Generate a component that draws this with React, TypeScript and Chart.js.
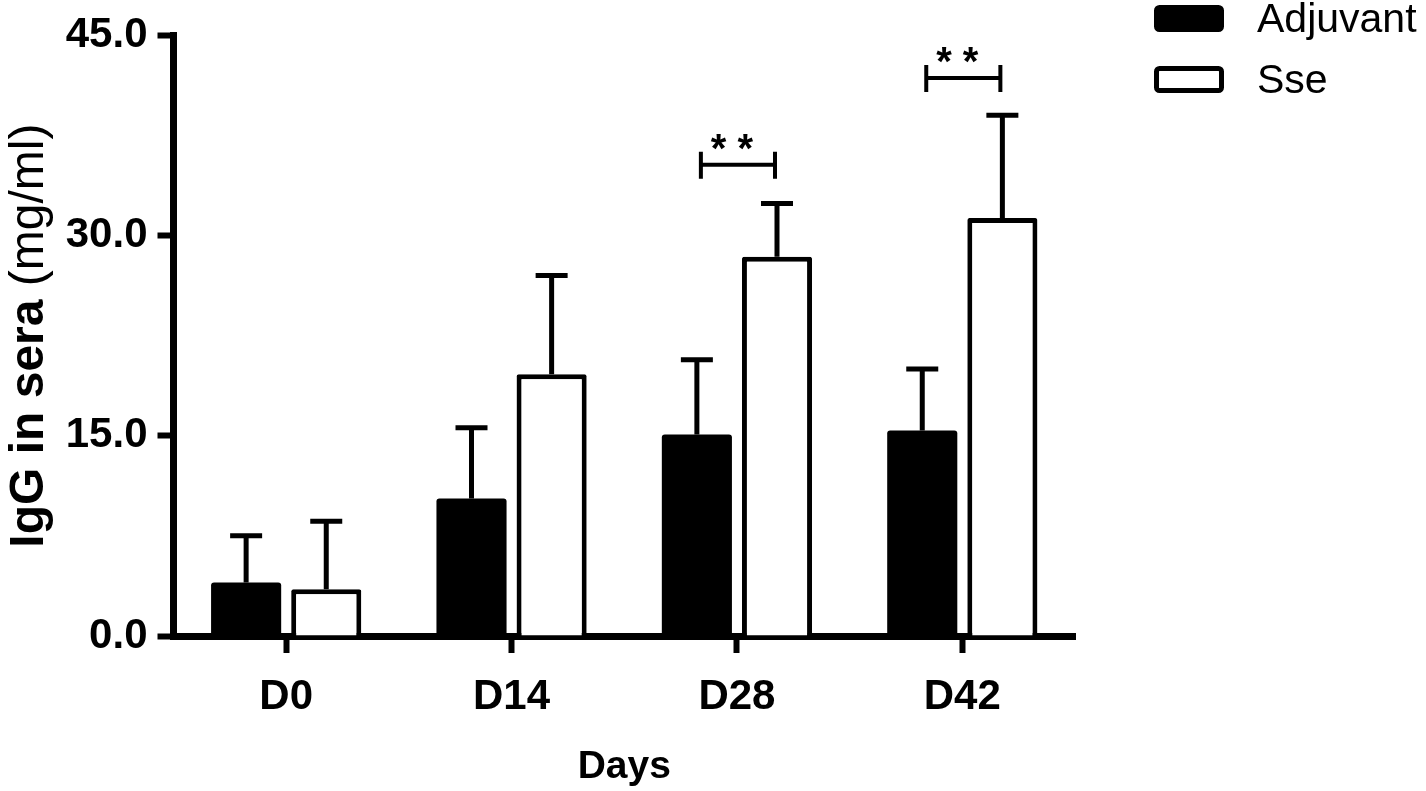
import { useEffect, useRef } from 'react';
import Chart from 'chart.js/auto';

const days = ['D0', 'D14', 'D28', 'D42'];
const adjuvantMean = [4.0, 10.3, 15.1, 15.4];
const adjuvantSd = [3.5, 5.3, 5.6, 4.6];
const sseMean = [3.5, 19.6, 28.4, 31.3];
const sseSd = [5.1, 7.4, 4.0, 7.7];
const sigDays = ['D28', 'D42'];
const sigLevel = [35.3, 41.8];
const sigLabel = ['* *', '* *'];

const FONT = '"Liberation Sans", Arial, sans-serif';

const errorBars = {
  id: 'errorBars',
  afterDatasetsDraw(chart: any) {
    const { ctx } = chart;
    const y = chart.scales.y;
    const sds = [adjuvantSd, sseSd];
    ctx.save();
    ctx.strokeStyle = '#000';
    ctx.lineWidth = 5;
    chart.data.datasets.forEach((ds: any, di: number) => {
      const meta = chart.getDatasetMeta(di);
      meta.data.forEach((bar: any, i: number) => {
        const top = y.getPixelForValue(ds.data[i] + sds[di][i]);
        ctx.beginPath();
        ctx.moveTo(bar.x, bar.y);
        ctx.lineTo(bar.x, top);
        ctx.moveTo(bar.x - 16, top);
        ctx.lineTo(bar.x + 16, top);
        ctx.stroke();
      });
    });

    // significance brackets between the two bars of a day
    ctx.lineWidth = 4;
    ctx.fillStyle = '#000';
    ctx.font = `bold 40px ${FONT}`;
    ctx.textAlign = 'center';
    ctx.textBaseline = 'alphabetic';
    sigDays.forEach((d, k) => {
      const i = days.indexOf(d);
      const a = chart.getDatasetMeta(0).data[i];
      const b = chart.getDatasetMeta(1).data[i];
      const x1 = a.x + 4;
      const x2 = b.x - 2;
      const yy = y.getPixelForValue(sigLevel[k]);
      ctx.beginPath();
      ctx.moveTo(x1, yy);
      ctx.lineTo(x2, yy);
      ctx.moveTo(x1, yy - 13);
      ctx.lineTo(x1, yy + 14);
      ctx.moveTo(x2, yy - 13);
      ctx.lineTo(x2, yy + 14);
      ctx.stroke();
      ctx.fillText(sigLabel[k], (x1 + x2) / 2 - 6, yy - 3);
    });
    ctx.restore();
  },
};

const decorations = {
  id: 'decorations',
  afterDraw(chart: any) {
    const { ctx, chartArea } = chart;
    ctx.save();
    // y axis title: bold part + regular unit
    const bold = 'IgG in sera ';
    const unit = '(mg/ml)';
    ctx.font = `bold 48px ${FONT}`;
    const wb = ctx.measureText(bold).width;
    ctx.font = `48px ${FONT}`;
    const wu = ctx.measureText(unit).width;
    const cy = (chartArea.top + chartArea.bottom) / 2;
    ctx.translate(43, cy);
    ctx.rotate(-Math.PI / 2);
    ctx.fillStyle = '#000';
    ctx.textBaseline = 'alphabetic';
    ctx.textAlign = 'left';
    ctx.font = `bold 48px ${FONT}`;
    ctx.fillText(bold, -(wb + wu) / 2, 0);
    ctx.font = `48px ${FONT}`;
    ctx.fillText(unit, -(wb + wu) / 2 + wb, 0);
    ctx.restore();

    // legend
    ctx.save();
    chart.data.datasets.forEach((ds: any, i: number) => {
      const top = 5 + i * 61;
      ctx.beginPath();
      ctx.roundRect(1156.5, top + 2.5, 65, 22, 3);
      ctx.fillStyle = ds.backgroundColor;
      ctx.fill();
      ctx.lineWidth = 5;
      ctx.strokeStyle = '#000';
      ctx.stroke();
      ctx.fillStyle = '#000';
      ctx.font = `41px ${FONT}`;
      ctx.textBaseline = 'middle';
      ctx.textAlign = 'left';
      ctx.fillText(ds.label, 1257, top + 16);
    });
    ctx.restore();
  },
};

export default function App() {
  const canvasRef = useRef<HTMLCanvasElement | null>(null);

  useEffect(() => {
    document.body.style.margin = '0';
    document.body.style.overflow = 'hidden';
    const canvas = canvasRef.current;
    if (!canvas) return;

    const chart = new Chart(canvas, {
      type: 'bar',
      data: {
        labels: days,
        datasets: [
          {
            label: 'Adjuvant',
            data: adjuvantMean,
            backgroundColor: '#000',
            borderColor: '#000',
            borderWidth: 0,
            borderRadius: 3,
            borderSkipped: 'bottom',
          },
          {
            label: 'Sse',
            data: sseMean,
            backgroundColor: '#fff',
            borderColor: '#000',
            borderWidth: 5,
            borderRadius: 2,
            borderSkipped: 'bottom',
          },
        ],
      },
      options: {
        responsive: true,
        maintainAspectRatio: false,
        animation: false,
        categoryPercentage: 0.711,
        barPercentage: 0.875,
        layout: { padding: { left: 0, right: 351, top: 34, bottom: 0 } },
        plugins: {
          legend: { display: false },
          tooltip: { enabled: false },
        },
        scales: {
          x: {
            offset: true,
            afterFit: (s: any) => {
              s.height = 155;
            },
            grid: {
              offset: false,
              drawOnChartArea: false,
              drawTicks: true,
              tickLength: 17,
              tickWidth: 6,
              color: '#000',
            },
            border: { display: true, color: '#000', width: 7 },
            ticks: {
              color: '#000',
              padding: 19,
              maxRotation: 0,
              autoSkip: false,
              font: { family: FONT, size: 42, weight: 'bold' },
            },
            title: {
              display: true,
              text: 'Days',
              color: '#000',
              padding: { top: 0, bottom: 0 },
              font: { family: FONT, size: 39, weight: 'bold' },
            },
          },
          y: {
            min: 0,
            max: 45,
            afterFit: (s: any) => {
              s.width = 173.5;
            },
            grid: {
              drawOnChartArea: false,
              drawTicks: true,
              tickLength: 16,
              tickWidth: 6,
              color: '#000',
            },
            border: { display: true, color: '#000', width: 7 },
            ticks: {
              stepSize: 15,
              color: '#000',
              padding: 10,
              font: { family: FONT, size: 42, weight: 'bold' },
              callback: (v: any) => Number(v).toFixed(1),
            },
          },
        },
      },
      plugins: [errorBars, decorations],
    });

    return () => chart.destroy();
  }, []);

  return (
    <div style={{ width: 1426, height: 791, position: 'relative', background: '#fff' }}>
      <canvas ref={canvasRef} />
    </div>
  );
}
